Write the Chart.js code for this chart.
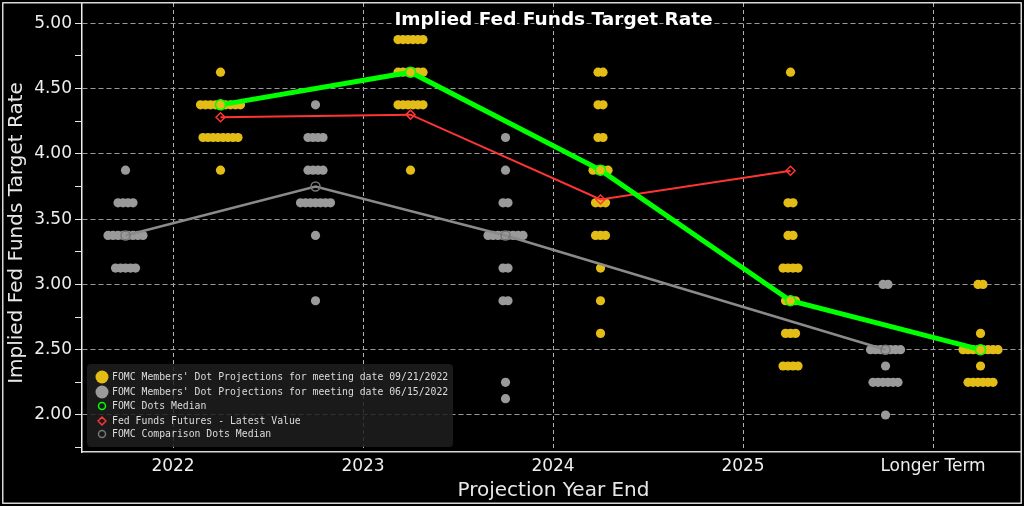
<!DOCTYPE html>
<html>
<head>
<meta charset="utf-8">
<script src="https://cdn.jsdelivr.net/npm/chart.js@4.4.0/dist/chart.umd.min.js"></script>
<style>
html,body{margin:0;padding:0;background:#000;}
#wrap{position:relative;width:1024px;height:506px;}
canvas{display:block;}
</style>
</head>
<body>
<div id="wrap"><canvas id="c" width="1024" height="506"></canvas></div>
<script>
// ---------- data ----------
const categories = ['2022', '2023', '2024', '2025', 'Longer Term'];
const yTickValues = [1.75, 2.00, 2.25, 2.50, 2.75, 3.00, 3.25, 3.50, 3.75, 4.00, 4.25, 4.50, 4.75, 5.00];

// FOMC members' dots, meeting 09/21/2022 (one value per participant)
const sepDots2022 = [3.875,
  4.125, 4.125, 4.125, 4.125, 4.125, 4.125, 4.125, 4.125,
  4.375, 4.375, 4.375, 4.375, 4.375, 4.375, 4.375, 4.375, 4.375,
  4.625];
const sepDots2023 = [3.875,
  4.375, 4.375, 4.375, 4.375, 4.375, 4.375,
  4.625, 4.625, 4.625, 4.625, 4.625, 4.625,
  4.875, 4.875, 4.875, 4.875, 4.875, 4.875];
const sepDots2024 = [2.625, 2.875, 3.125,
  3.375, 3.375, 3.375,
  3.625, 3.625, 3.625,
  3.875, 3.875, 3.875, 3.875,
  4.125, 4.125, 4.375, 4.375, 4.625, 4.625];
const sepDots2025 = [2.375, 2.375, 2.375, 2.375,
  2.625, 2.625, 2.625,
  2.875, 2.875, 2.875,
  3.125, 3.125, 3.125, 3.125,
  3.375, 3.375, 3.625, 3.625, 4.625];
const sepDotsLT = [2.25, 2.25, 2.25, 2.25, 2.25, 2.25,
  2.375,
  2.5, 2.5, 2.5, 2.5, 2.5, 2.5, 2.5, 2.5,
  2.625, 3.0, 3.0];

// FOMC members' dots, meeting 06/15/2022
const junDots2022 = [3.125, 3.125, 3.125, 3.125, 3.125,
  3.375, 3.375, 3.375, 3.375, 3.375, 3.375, 3.375, 3.375,
  3.625, 3.625, 3.625, 3.625, 3.875];
const junDots2023 = [2.875, 3.375,
  3.625, 3.625, 3.625, 3.625, 3.625, 3.625, 3.625,
  3.875, 3.875, 3.875, 3.875,
  4.125, 4.125, 4.125, 4.125, 4.375];
const junDots2024 = [2.125, 2.25, 2.875, 2.875, 3.125, 3.125,
  3.375, 3.375, 3.375, 3.375, 3.375, 3.375, 3.375, 3.375,
  3.625, 3.625, 3.875, 4.125];
const junDots2025 = [];
const junDotsLT = [2.0,
  2.25, 2.25, 2.25, 2.25, 2.25, 2.25,
  2.375,
  2.5, 2.5, 2.5, 2.5, 2.5, 2.5, 2.5,
  3.0, 3.0];

const sepMedians = [4.375, 4.625, 3.875, 2.875, 2.5];
const junMedians = [3.375, 3.75, 3.375, null, 2.5];
const futuresLatest = [4.28, 4.30, 3.65, 3.87, null];

const legendLabels = [
  "FOMC Members' Dot Projections for meeting date 09/21/2022",
  "FOMC Members' Dot Projections for meeting date 06/15/2022",
  "FOMC Dots Median",
  "Fed Funds Futures - Latest Value",
  "FOMC Comparison Dots Median"
];

// ---------- styling ----------
const GOLD = '#e3bd16';
const GRAY = '#9a9a9a';
const GREEN = '#00ff00';
const RED = '#ff3535';
const MEDGRAY = '#8a8a8a';
const SEP_OFFSET = 0.25, JUN_OFFSET = -0.25, DOT_STEP = 5 / 190;

function dotPoints(lists, offset) {
  const pts = [];
  lists.forEach((vals, i) => {
    const counts = new Map();
    vals.forEach(v => counts.set(v, (counts.get(v) || 0) + 1));
    counts.forEach((n, v) => {
      for (let k = 0; k < n; k++) pts.push({x: i + offset + (k - (n - 1) / 2) * DOT_STEP, y: v});
    });
  });
  return pts;
}
function linePoints(vals, offset) {
  const pts = [];
  vals.forEach((v, i) => { if (v !== null) pts.push({x: i + offset, y: v}); });
  return pts;
}
const isMajor = v => Math.abs(v * 2 - Math.round(v * 2)) < 1e-6;
function noPad(s) { s.paddingTop = 0; s.paddingBottom = 0; s.paddingLeft = 0; s.paddingRight = 0; }

const overlay = {
  id: 'overlay',
  beforeDraw(chart) {
    const ctx = chart.ctx;
    ctx.save();
    ctx.fillStyle = '#000';
    ctx.fillRect(0, 0, chart.width, chart.height);
    ctx.restore();
  },
  afterDraw(chart) {
    const ctx = chart.ctx, a = chart.chartArea;
    ctx.save();
    // title
    ctx.font = 'bold 18.5px "DejaVu Sans"';
    ctx.textAlign = 'center';
    ctx.textBaseline = 'middle';
    ctx.lineWidth = 4;
    ctx.strokeStyle = '#000';
    ctx.lineJoin = 'round';
    const tx = (a.left + a.right) / 2 + 2;
    ctx.strokeText('Implied Fed Funds Target Rate', tx, 20);
    ctx.fillStyle = '#ffffff';
    ctx.fillText('Implied Fed Funds Target Rate', tx, 20);
    // axis titles
    ctx.font = '20px "DejaVu Sans"';
    ctx.fillStyle = '#e8e8e8';
    ctx.fillText('Projection Year End', tx, 491);
    ctx.save();
    ctx.translate(17, 233);
    ctx.rotate(-Math.PI / 2);
    ctx.fillText('Implied Fed Funds Target Rate', 0, 0);
    ctx.restore();
    // legend box
    const bx = 87, by = 364, bw = 366, bh = 83;
    ctx.fillStyle = 'rgba(30,30,30,0.85)';
    ctx.beginPath();
    ctx.roundRect(bx, by, bw, bh, 4);
    ctx.fill();
    const rows = [377, 392, 406, 421, 434];
    const mx = 102;
    ctx.fillStyle = GOLD;
    ctx.beginPath(); ctx.arc(mx, rows[0], 6.5, 0, Math.PI * 2); ctx.fill();
    ctx.fillStyle = GRAY;
    ctx.beginPath(); ctx.arc(mx, rows[1], 6.5, 0, Math.PI * 2); ctx.fill();
    ctx.lineWidth = 1.5;
    ctx.strokeStyle = GREEN;
    ctx.beginPath(); ctx.arc(mx, rows[2], 3.5, 0, Math.PI * 2); ctx.stroke();
    ctx.strokeStyle = RED;
    ctx.beginPath();
    ctx.moveTo(mx, rows[3] - 4); ctx.lineTo(mx + 4, rows[3]); ctx.lineTo(mx, rows[3] + 4); ctx.lineTo(mx - 4, rows[3]); ctx.closePath();
    ctx.stroke();
    ctx.strokeStyle = '#777';
    ctx.beginPath(); ctx.arc(mx, rows[4], 3.5, 0, Math.PI * 2); ctx.stroke();
    ctx.font = '9.8px "DejaVu Sans Mono"';
    ctx.textAlign = 'left';
    ctx.textBaseline = 'middle';
    ctx.fillStyle = '#dcdcdc';
    legendLabels.forEach((t, i) => ctx.fillText(t, 112, rows[i] + 0.5));
    // frame
    ctx.strokeStyle = '#d8d8d8';
    ctx.lineWidth = 1.5;
    ctx.strokeRect(2.75, 2.75, 1018.5, 500.5);
    ctx.restore();
  }
};

new Chart(document.getElementById('c'), {
  type: 'scatter',
  data: {
    datasets: [
      {
        label: legendLabels[2], type: 'line', showLine: true, order: 0,
        data: linePoints(sepMedians, SEP_OFFSET),
        borderColor: GREEN, borderWidth: 5, tension: 0,
        pointStyle: 'circle', pointRadius: 5, pointBorderColor: GREEN,
        pointBorderWidth: 1.5, pointBackgroundColor: GOLD
      },
      {
        label: legendLabels[3], type: 'line', showLine: true, order: 1,
        data: linePoints(futuresLatest, SEP_OFFSET),
        borderColor: RED, borderWidth: 2, tension: 0,
        pointStyle: 'rectRot', pointRadius: 4.5, pointBorderColor: RED,
        pointBorderWidth: 1.5, pointBackgroundColor: 'rgba(0,0,0,0)'
      },
      {
        label: legendLabels[4], type: 'line', showLine: true, order: 2,
        data: linePoints(junMedians, JUN_OFFSET),
        borderColor: MEDGRAY, borderWidth: 2.5, tension: 0,
        pointStyle: 'circle', pointRadius: 4.5, pointBorderColor: '#777',
        pointBorderWidth: 1.5, pointBackgroundColor: 'rgba(0,0,0,0)'
      },
      {
        label: legendLabels[0], order: 3,
        data: dotPoints([sepDots2022, sepDots2023, sepDots2024, sepDots2025, sepDotsLT], SEP_OFFSET),
        pointRadius: 4.6, pointBorderWidth: 0, pointBackgroundColor: GOLD, backgroundColor: GOLD
      },
      {
        label: legendLabels[1], order: 4,
        data: dotPoints([junDots2022, junDots2023, junDots2024, junDots2025, junDotsLT], JUN_OFFSET),
        pointRadius: 4.6, pointBorderWidth: 0, pointBackgroundColor: GRAY, backgroundColor: GRAY
      }
    ]
  },
  options: {
    responsive: false,
    animation: false,
    layout: {autoPadding: false, padding: {left: 0, top: 3, right: 3, bottom: 0}},
    plugins: {legend: {display: false}, tooltip: {enabled: false}, title: {display: false}},
    scales: {
      x: {
        type: 'linear', min: -0.479, max: 4.463,
        afterBuildTicks: s => { s.ticks = categories.map((c, i) => ({value: i})); },
        afterFit: s => { s.height = 54; noPad(s); },
        ticks: {
          callback: v => categories[Math.round(v)],
          color: '#eeeeee', font: {family: 'DejaVu Sans', size: 17},
          padding: 4, maxRotation: 0, autoSkip: false
        },
        grid: {color: '#b0b0b0', lineWidth: 1, drawTicks: false},
        border: {color: '#d8d8d8', width: 1.5, dash: [4, 3]}
      },
      y: {
        type: 'linear', min: 1.7166, max: 5.155,
        afterBuildTicks: s => { s.ticks = yTickValues.map(v => ({value: v})); },
        afterFit: s => { s.width = 82; noPad(s); },
        ticks: {
          callback: v => isMajor(v) ? v.toFixed(2) : '',
          color: '#eeeeee', font: {family: 'DejaVu Sans', size: 17}, padding: 3,
          autoSkip: false
        },
        grid: {
          color: c => (c.tick && isMajor(c.tick.value)) ? '#9a9a9a' : 'rgba(0,0,0,0)',
          tickColor: '#e8e8e8', tickLength: 7, lineWidth: 1
        },
        border: {color: '#eeeeee', width: 1.5, dash: [5, 3]}
      }
    }
  },
  plugins: [overlay]
});
</script>
</body>
</html>
